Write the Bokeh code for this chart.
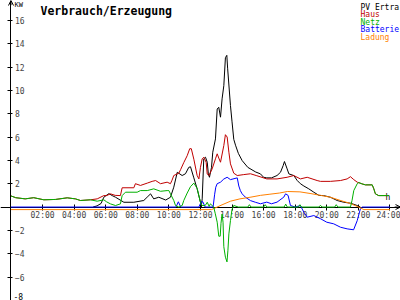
from bokeh.plotting import figure
from bokeh.models import Range1d, LinearAxis, FixedTicker, Label, Arrow, OpenHead
from bokeh.embed import file_html
from bokeh.resources import INLINE

# ---- data (hours of day, kW) ----
pv_t = [5.2, 5.45, 5.7, 5.88, 6.2, 6.41, 6.62, 7.15, 7.78, 8.41, 8.62, 8.84, 9.04, 9.36, 9.8,
        10.1, 10.31, 10.53, 10.84, 11.05, 11.26, 11.37, 11.58, 11.79, 12.0, 12.05, 12.11, 12.21,
        12.32, 12.43, 12.5, 12.57, 12.7, 12.78, 12.95, 13.06, 13.16, 13.27, 13.37, 13.48, 13.58,
        13.67, 13.72, 13.9, 14.0, 14.11, 14.22, 14.4, 14.64, 15.0, 15.5, 15.8, 16.0, 16.2, 16.5,
        16.85, 17.07, 17.24, 17.32, 17.49, 17.6, 17.91, 18.13, 18.33, 18.55, 18.86, 19.18, 19.5,
        19.8, 20.23, 20.66, 21.08, 21.5, 21.93, 22.13]
pv_kw = [0, 0.1, 0.3, 0.84, 1.15, 0.98, 0.84, 0.41, 0.41, 0.56, 0.84, 1.13, 0.7, 0.84, 0.6,
         0.84, 1.7, 2.98, 2.7, 2.85, 3.4, 3.45, 2.5, 1.56, 0.41, 0.0, 0.7, 4.13,
         4.27, 3.84, 2.84, 2.55, 3.4, 4.7, 5.84, 8.4, 8.55, 7.7, 9.27, 10.4, 12.8,
         13.0, 11.9, 8.7, 7.3, 5.8, 5.3, 4.6, 3.98, 3.4, 3.0, 2.84, 2.55, 2.5, 2.5,
         2.7, 2.98, 3.56, 3.9, 3.27, 2.84, 2.7, 2.27, 2.0, 1.8, 1.56, 1.27, 1.0,
         0.98, 0.84, 0.56, 0.41, 0.33, 0.13, 0.0]

haus_t = [0, 0.3, 0.9, 1.44, 2.08, 2.82, 3.56, 4.08, 4.4, 5.03, 5.46, 5.88, 6.05, 6.3, 6.6,
          6.93, 7.04, 7.78, 7.88, 8.2, 8.63, 8.94, 9.16, 9.47, 9.89, 10.1, 10.2, 10.31, 10.63,
          10.74, 10.94, 11.16, 11.32, 11.42, 11.58, 11.79, 11.9, 12.0, 12.11, 12.21, 12.36,
          12.43, 12.53, 12.74, 12.95, 13.06, 13.16, 13.27, 13.48, 13.58, 13.69, 13.8, 13.9,
          14.11, 14.33, 14.74, 15.17, 15.53, 16.2, 16.85, 17.49, 17.91, 18.33, 18.76, 19.39,
          19.6, 20.23, 20.87, 21.29, 21.5, 21.71, 21.93, 22.2, 22.45, 22.88, 22.98, 23.08,
          23.29, 23.93]
haus_kw = [0.95, 0.8, 0.7, 0.8, 0.62, 0.65, 0.79, 0.7, 0.56, 0.62, 0.7, 0.98, 0.98, 1.13, 1.0,
           0.98, 1.65, 1.65, 2.0, 1.85, 2.05, 2.2, 2.27, 2.0, 2.13, 2.0, 2.3, 2.7, 2.9,
           3.2, 3.8, 4.4, 5.0, 5.0, 4.1, 2.7, 2.41, 3.4, 4.13, 4.27, 3.84,
           2.84, 2.7, 3.27, 4.13, 4.56, 4.2, 3.84, 5.27, 6.2, 6.0, 4.7, 3.7,
           2.9, 2.7, 2.78, 2.85, 2.7, 2.41, 2.41, 2.55, 2.7, 2.41, 2.55, 2.27,
           2.2, 2.2, 2.27, 2.41, 2.6, 2.35, 2.13, 2.0, 1.9, 1.9, 1.56, 1.13,
           0.98, 0.98]

netz_t = [0, 0.3, 0.9, 1.44, 2.08, 2.82, 3.56, 4.08, 4.4, 5.03, 5.46, 5.88, 6.05, 6.3, 6.62,
          6.93, 7.04, 7.25, 7.99, 8.2, 8.63, 9.04, 9.47, 9.89, 10.0, 10.1, 10.31, 10.42, 10.63,
          10.84, 10.94, 11.16, 11.37, 11.58, 11.79, 12.0, 12.1, 12.3, 12.43, 12.55, 12.63,
          12.84, 12.94, 13.06, 13.16, 13.25, 13.3, 13.37, 13.43, 13.48, 13.58, 13.68, 13.74,
          13.8, 13.9, 14.0, 14.11, 14.4, 15.0, 15.1, 15.2, 16.0, 16.1, 16.2, 17.3, 17.4, 17.5,
          18.2, 18.3, 18.4, 19.5, 19.6, 19.7, 20.5, 20.6, 20.7, 21.5, 21.6, 21.71, 21.93,
          22.03, 22.24, 22.45, 22.88, 22.98, 23.08, 23.29, 23.93]
netz_kw = [0.95, 0.8, 0.7, 0.8, 0.62, 0.65, 0.79, 0.7, 0.56, 0.62, 0.5, 0.62, 0.45, 0.27, 0.13,
           0.27, 0.98, 1.27, 1.27, 1.41, 1.41, 1.56, 1.35, 1.41, 1.41, 1.13, 0.56, 0.13, 0.0,
           0.13, 0.55, 1.2, 1.75, 2.05, 1.6, 0.4, 0.13, 0.13, 0.41, 0.05, 0.27,
           0.0, -0.58, -1.3, -2.5, -2.5, -1.4, -0.6, -1.3, -3.4, -4.3, -4.7, -3.7,
           -2.3, -1.16, -0.2, 0.13, 0.0, 0.0, 0.2, 0.0, 0.0, 0.2, 0.0, 0.0, 0.25, 0.0,
           0.0, 0.2, 0.0, 0.0, 0.15, 0.0, 0.0, 0.2, 0.0, 0.0, 0.56, 1.41, 2.0,
           2.1, 1.98, 1.9, 1.9, 1.56, 1.13, 0.98, 0.98]

bat_t = [0, 10.45, 10.6, 10.75, 11.9, 12.05, 12.15, 12.3, 12.8, 12.9, 12.97, 13.06, 13.27,
         13.48, 13.69, 13.9, 14.33, 14.43, 14.53, 14.64, 14.85, 15.17, 15.5, 15.8, 16.2, 16.5,
         16.85, 17.28, 17.39, 17.55, 17.7, 18.0, 18.33, 18.55, 18.76, 19.18, 19.6, 20.0, 20.44,
         20.87, 21.29, 21.7, 21.93, 22.13, 22.25, 24]
bat_kw = [0, 0, 0.45, 0, 0, 0.45, 0.45, 0, 0, 1.1, 1.7, 2.0, 2.13,
          2.4, 2.55, 2.35, 2.5, 1.8, 1.4, 1.13, 0.84, 0.55, 0.4, 0.28, 0.42, 0.28,
          0.42, 0.85, 1.13, 1.0, 0.13, 0, 0.13, -0.45, -0.87, -0.73, -1.0, -1.3, -1.44,
          -1.73, -1.87, -1.95, -1.16, -0.15, 0, 0]

lad_t = [0, 12.7, 13.3, 13.9, 14.5, 15.2, 15.8, 16.4, 17.0, 17.5, 18.3, 19.0, 19.6, 20.2,
         20.9, 21.5, 22.1, 22.35, 24]
lad_kw = [-0.22, -0.22, 0.15, 0.5, 0.7, 0.85, 1.0, 1.1, 1.2, 1.33, 1.3, 1.15, 1.0, 0.85,
          0.55, 0.3, -0.05, -0.22, -0.22]

series_names = ["PV Ertra", "Haus", "Netz", "Batterie", "Ladung"]
series_colors = ["#000000", "#c00000", "#00b000", "#0000ff", "#ff8000"]

x_ticks = list(range(2, 25, 2))
x_labels = {h: f"{h:02d}:00" for h in x_ticks}
y_ticks = [-8, -6, -4, -2, 2, 4, 6, 8, 10, 12, 14, 16]
y_bottom_label = "-8"

FONT = "DejaVu Sans Mono"

p = figure(width=400, height=300, x_range=Range1d(-0.665, 24.67), y_range=Range1d(-8.01, 17.7),
           output_backend="svg", toolbar_location=None, x_axis_type=None, y_axis_type=None,
           min_border=0, background_fill_color="white", border_fill_color="white")
p.outline_line_color = None

xaxis = LinearAxis(fixed_location=0, ticker=FixedTicker(ticks=x_ticks),
                   major_label_overrides=x_labels,
                   major_tick_in=3, major_tick_out=3, minor_tick_in=0, minor_tick_out=0,
                   major_label_standoff=1, major_label_text_font=FONT,
                   major_label_text_font_size="8px", major_label_text_align="left",
                   axis_line_color="black", major_tick_line_color="black")
p.add_layout(xaxis, "below")

yaxis = LinearAxis(fixed_location=0, ticker=FixedTicker(ticks=y_ticks),
                   major_label_overrides={-8: ""},
                   major_tick_in=3, major_tick_out=2, minor_tick_in=0, minor_tick_out=0,
                   major_label_standoff=2, major_label_text_font=FONT,
                   major_label_text_font_size="8px",
                   axis_line_color="black", major_tick_line_color="black")
p.add_layout(yaxis, "right")

data = [(pv_t, pv_kw), (bat_t, bat_kw), (lad_t, lad_kw), (haus_t, haus_kw), (netz_t, netz_kw)]
cols = [series_colors[0], series_colors[3], series_colors[4], series_colors[1], series_colors[2]]
for (t, v), c in zip(data, cols):
    r = p.line(t, v, line_color=c, line_width=1)
    r.level = "overlay"

p.add_layout(Arrow(end=OpenHead(size=5, line_width=1, line_color="black"),
                   x_start=0, y_start=17.3, x_end=0, y_end=17.7, line_color="black"))
p.add_layout(Arrow(end=OpenHead(size=5, line_width=1, line_color="black"),
                   x_start=24.3, y_start=0, x_end=24.67, y_end=0, line_color="black"))

p.add_layout(Label(x=40, y=297, x_units="screen", y_units="screen", text="Verbrauch/Erzeugung",
                   text_font=FONT, text_font_size="11.5px", text_font_style="bold",
                   text_baseline="top", text_color="black"))
p.add_layout(Label(x=14, y=300, x_units="screen", y_units="screen", text="KW",
                   text_font=FONT, text_font_size="7px", text_baseline="top", text_color="black"))
p.add_layout(Label(x=385, y=108, x_units="screen", y_units="screen", text="h",
                   text_font=FONT, text_font_size="8px", text_baseline="top", text_color="black"))
p.add_layout(Label(x=13, y=1, x_units="screen", y_units="screen", text=y_bottom_label,
                   text_font=FONT, text_font_size="8px", text_baseline="bottom",
                   text_color="black"))
for i, (name, col) in enumerate(zip(series_names, series_colors)):
    p.add_layout(Label(x=360, y=298 - 7.5 * i, x_units="screen", y_units="screen", text=name,
                       text_font=FONT, text_font_size="8px", text_baseline="top",
                       text_color=col))

open("out.html", "w").write(file_html(p, INLINE))
